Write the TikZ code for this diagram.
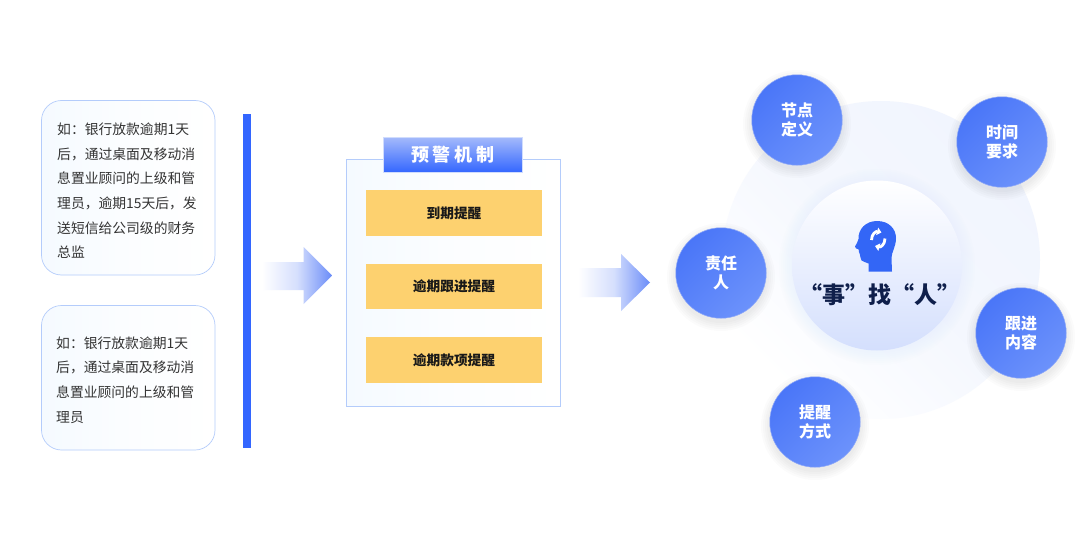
\documentclass[tikz,border=0pt]{standalone}
\usepackage{fontspec}
\setmainfont{Noto Sans CJK SC}
\usetikzlibrary{arrows.meta}
\definecolor{barblue}{HTML}{3366FF}
\definecolor{headblue}{HTML}{3366F6}
\definecolor{cardedge}{HTML}{B4CCFB}
\definecolor{cardfill}{HTML}{F5FAFF}
\definecolor{yellowbox}{HTML}{FDD16F}
\definecolor{navy}{HTML}{0F1F4B}
\definecolor{circA}{HTML}{4A76F8}
\definecolor{circB}{HTML}{6C92FB}
\definecolor{circEdge}{HTML}{8FA9F9}
\definecolor{bigA}{HTML}{F1F5FE}
\definecolor{innerB}{HTML}{D4DFFD}
\definecolor{arrowB}{HTML}{6A8CF8}
\definecolor{headerA}{HTML}{A3B9FB}
\definecolor{headerEdge}{HTML}{D0DCFD}
\definecolor{bodytext}{HTML}{333333}
\tikzset{
  card/.style={rounded corners=20pt,draw=cardedge,line width=.7pt,left color=cardfill,right color=white,middle color=cardfill!35},
  bodytxt/.style={anchor=west,inner sep=0pt,align=left,text=bodytext,font=\fontsize{13.8}{24.7}\selectfont},
  panel/.style={draw=cardedge,line width=.7pt,left color=cardfill,right color=white,middle color=cardfill!35},
  ybox/.style={fill=yellowbox,draw=none,minimum width=176pt,inner sep=0pt,text=black!90,font=\fontsize{13.7}{16}\selectfont\bfseries},
  topic/.style={circle,minimum size=90.5pt,inner sep=0pt,draw=circEdge,line width=.5pt,top color=circA,bottom color=circB,shading angle=45,align=center,text=white,font=\fontsize{16}{19}\selectfont\bfseries},
  flow/.style={left color=white,right color=arrowB,middle color=arrowB!28,draw=none},
}
\newcommand{\softglow}[4]{%
  \foreach \rr in {1,...,#4}{\fill[#3,opacity=.0011] (#1,#2) circle ({#4-\rr+1});}%
}
\begin{document}
\begin{tikzpicture}[x=1pt,y=-1pt]
\useasboundingbox (0,0) rectangle (1080,538);
\fill[white] (0,0) rectangle (1080,538);
% left cards
\path[card] (41.5,100.5) rectangle (215,275);
\path[card] (41.5,305.5) rectangle (215,450);
\node[bodytxt] (t1) at (57,190.8) {如：银行放款逾期1天\\后，通过桌面及移动消\\息置业顾问的上级和管\\理员，逾期15天后，发\\送短信给公司级的财务\\总监};
\node[bodytxt] (t2) at (56,380) {如：银行放款逾期1天\\后，通过桌面及移动消\\息置业顾问的上级和管\\理员};
\fill[barblue] (242.5,114) rectangle (250.5,448);
% arrows
\softglow{318}{275.5}{gray}{42}
\path[flow] (262,262) -- (303.5,262) -- (303.5,247) -- (332,275.5) -- (303.5,304) -- (303.5,290) -- (262,290) -- cycle;
% panel
\path[panel] (346.5,159.5) rectangle (560.5,406);
\node[inner sep=0pt,minimum width=139pt,minimum height=35pt,draw=headerEdge,line width=.5pt,top color=headerA,bottom color=barblue,text=white,font=\fontsize{18}{20}\selectfont\bfseries] (hdr) at (453,155) {预\kern4pt 警\kern4pt 机\kern4pt 制};
\node[ybox,minimum height=46pt] (y1) at (454,213) {到期提醒};
\node[ybox,minimum height=45pt] (y2) at (454,286.5) {逾期跟进提醒};
\node[ybox,minimum height=46pt] (y3) at (454,360.2) {逾期款项提醒};
\softglow{636}{282.5}{gray}{42}
\path[flow] (578,268) -- (621,268) -- (621,254) -- (650,282.5) -- (621,311) -- (621,297) -- (578,297) -- cycle;
% big circle
\path[top color=bigA,bottom color=white,middle color=bigA!75,shading angle=-45] (881,260) circle (159);
% inner circle
\foreach \rr in {86,88,...,98}{\fill[innerB,opacity=.035] (877,267) circle (\rr);}
\path[top color=white,bottom color=innerB] (877,265.5) circle (85);
% head icon
\fill[headblue] (868.5,271.5) -- (868.5,263.5)
  .. controls (866,261.5) and (863,262.5) .. (861.5,260.5)
  .. controls (860,258) and (860.5,256) .. (859.8,254)
  .. controls (858.5,252.5) and (859,251) .. (858.7,249.5)
  .. controls (857,249) and (854.5,248) .. (855,246.5)
  .. controls (856,244) and (858.5,241.5) .. (858.5,239)
  .. controls (858,229) and (866,221) .. (877,221)
  .. controls (889,221) and (896,229) .. (896,238)
  .. controls (896,247) and (891.5,252) .. (891.5,258)
  -- (892,271.5) -- cycle;
\draw[white,line width=2.8pt,-{Triangle[length=4.5pt,width=7.5pt]}] (871.5,240) .. controls (871.5,234) and (876,231) .. (881.5,232.5);
\draw[white,line width=2.8pt,-{Triangle[length=4.5pt,width=7.5pt]}] (885,238.5) .. controls (885,244.5) and (880.5,247.5) .. (875,246);
\node[inner sep=0pt,text=navy,font=\fontsize{23}{26}\selectfont\bfseries] (slogan) at (880,295) {“事”找“人”};
% topics
\foreach \x/\y in {797/120,1002/142,1021/333,815/422,721/273}{%
  \foreach \rr in {46,48,...,54}{\fill[black,opacity=.016] (\x,\y+4) circle (\rr);}}
\node[topic] (n1) at (797,120) {节点\\定义};
\node[topic] (n2) at (1002,142) {时间\\要求};
\node[topic] (n3) at (1021,333) {跟进\\内容};
\node[topic] (n4) at (815,422) {提醒\\方式};
\node[topic] (n5) at (721,273) {责任\\人};
\end{tikzpicture}
\end{document}
